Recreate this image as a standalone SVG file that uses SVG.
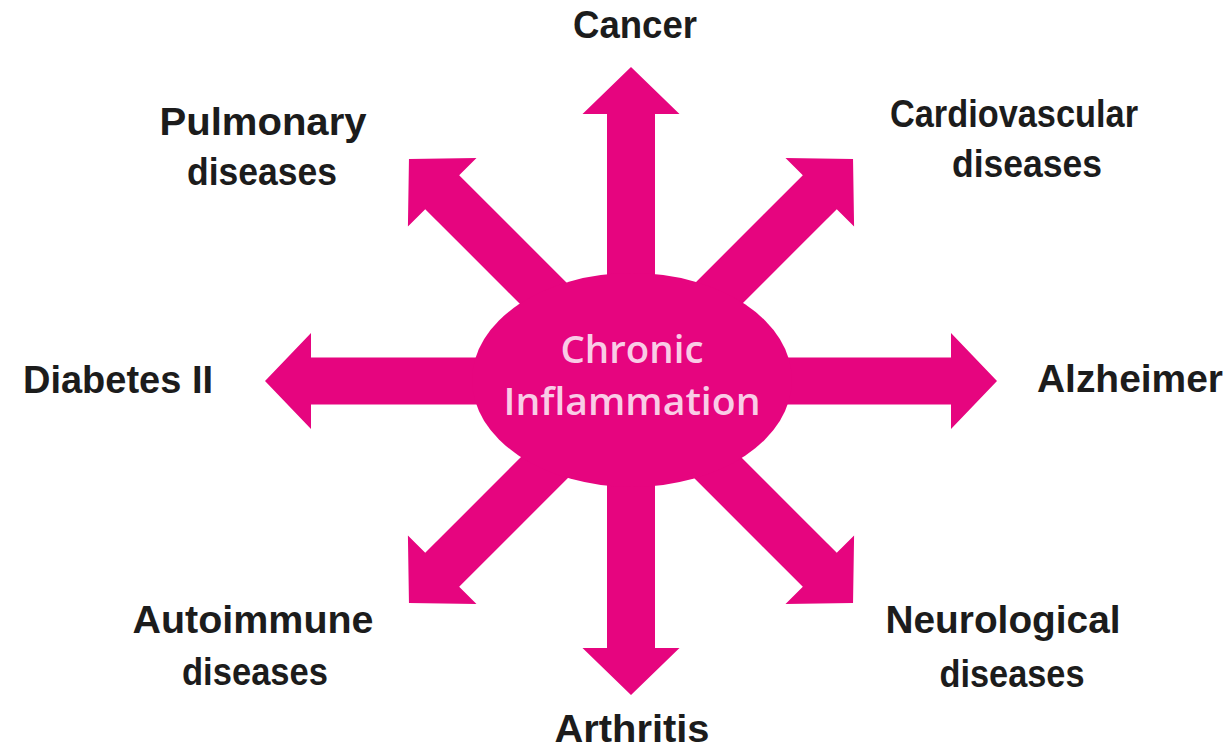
<svg xmlns="http://www.w3.org/2000/svg" xmlns:xlink="http://www.w3.org/1999/xlink" width="1231" height="748" viewBox="0 0 1231 748">
<style>
.arrow{fill:#E6057F;}
.hub{fill:#E6057F;}
.lbl{font-family:"Liberation Sans",Arial,sans-serif;font-weight:bold;font-size:39px;fill:#1c1c1c;text-anchor:middle;}
.hubtxt{font-family:"Open Sans","Liberation Sans",sans-serif;font-weight:600;font-size:37px;fill:#F9CCE6;text-anchor:middle;}
</style>
<defs>
<path id="a314" d="M-24,0 V-267 H-48.5 L0,-314 L48.5,-267 H24 V0 Z"/>
<path id="a366" d="M-23.5,0 V-320 H-48 L0,-366 L48,-320 H23.5 V0 Z"/>
</defs>
<rect width="1231" height="748" fill="#ffffff"/>
<g id="connectors" class="arrow">
<use xlink:href="#a314" transform="translate(631,381) rotate(0)"/>
<use xlink:href="#a314" transform="translate(631,381) rotate(45)"/>
<use xlink:href="#a366" transform="translate(631,381) rotate(90)"/>
<use xlink:href="#a314" transform="translate(631,381) rotate(135)"/>
<use xlink:href="#a314" transform="translate(631,381) rotate(180)"/>
<use xlink:href="#a314" transform="translate(631,381) rotate(225)"/>
<use xlink:href="#a366" transform="translate(631,381) rotate(270)"/>
<use xlink:href="#a314" transform="translate(631,381) rotate(315)"/>
</g>
<g id="chronic-inflammation">
<ellipse class="hub" cx="632" cy="380" rx="160" ry="107"/>
<text class="hubtxt" x="632" y="363" textLength="143" lengthAdjust="spacingAndGlyphs">Chronic</text>
<text class="hubtxt" x="632" y="415" textLength="257" lengthAdjust="spacingAndGlyphs">Inflammation</text>
</g>
<g id="cancer"><text class="lbl" x="635" y="38" textLength="124" lengthAdjust="spacingAndGlyphs">Cancer</text></g>
<g id="pulmonary">
<text class="lbl" x="263" y="135" textLength="207" lengthAdjust="spacingAndGlyphs">Pulmonary</text>
<text class="lbl" x="262" y="185" textLength="150" lengthAdjust="spacingAndGlyphs">diseases</text>
</g>
<g id="cardiovascular">
<text class="lbl" x="1014" y="127" textLength="248" lengthAdjust="spacingAndGlyphs">Cardiovascular</text>
<text class="lbl" x="1027" y="177" textLength="150" lengthAdjust="spacingAndGlyphs">diseases</text>
</g>
<g id="diabetes"><text class="lbl" x="118" y="393" textLength="190" lengthAdjust="spacingAndGlyphs">Diabetes II</text></g>
<g id="alzheimer"><text class="lbl" x="1130" y="392" textLength="186" lengthAdjust="spacingAndGlyphs">Alzheimer</text></g>
<g id="autoimmune">
<text class="lbl" x="253" y="633" textLength="241" lengthAdjust="spacingAndGlyphs">Autoimmune</text>
<text class="lbl" x="255" y="685" textLength="146" lengthAdjust="spacingAndGlyphs">diseases</text>
</g>
<g id="neurological">
<text class="lbl" x="1003" y="633" textLength="235" lengthAdjust="spacingAndGlyphs">Neurological</text>
<text class="lbl" x="1012" y="687" textLength="145" lengthAdjust="spacingAndGlyphs">diseases</text>
</g>
<g id="arthritis"><text class="lbl" x="632" y="742" textLength="155" lengthAdjust="spacingAndGlyphs">Arthritis</text></g>
</svg>
